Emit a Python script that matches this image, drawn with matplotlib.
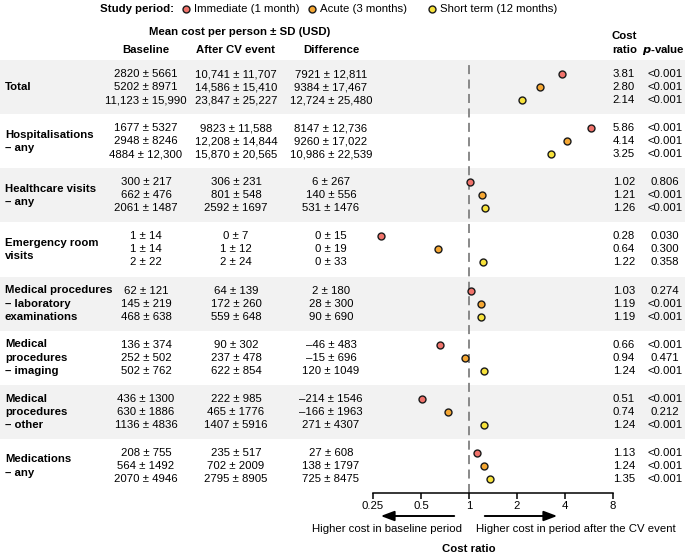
import numpy as np
import matplotlib.pyplot as plt

plt.rcParams['font.family'] = ['Liberation Sans', 'DejaVu Sans']

# Данные
groups = ['Total', 'Hospitalisations\n– any', 'Healthcare visits\n– any',
          'Emergency room\nvisits', 'Medical procedures\n– laboratory\nexaminations',
          'Medical\nprocedures\n– imaging', 'Medical\nprocedures\n– other',
          'Medications\n– any']
periods = ['Immediate (1 month)', 'Acute (3 months)', 'Short term (12 months)']
period_colors = ['#f0736b', '#f5a733', '#f7e23b']

baseline = [['2820 ± 5661', '5202 ± 8971', '11,123 ± 15,990'],
            ['1677 ± 5327', '2948 ± 8246', '4884 ± 12,300'],
            ['300 ± 217', '662 ± 476', '2061 ± 1487'],
            ['1 ± 14', '1 ± 14', '2 ± 22'],
            ['62 ± 121', '145 ± 219', '468 ± 638'],
            ['136 ± 374', '252 ± 502', '502 ± 762'],
            ['436 ± 1300', '630 ± 1886', '1136 ± 4836'],
            ['208 ± 755', '564 ± 1492', '2070 ± 4946']]
after = [['10,741 ± 11,707', '14,586 ± 15,410', '23,847 ± 25,227'],
         ['9823 ± 11,588', '12,208 ± 14,844', '15,870 ± 20,565'],
         ['306 ± 231', '801 ± 548', '2592 ± 1697'],
         ['0 ± 7', '1 ± 12', '2 ± 24'],
         ['64 ± 139', '172 ± 260', '559 ± 648'],
         ['90 ± 302', '237 ± 478', '622 ± 854'],
         ['222 ± 985', '465 ± 1776', '1407 ± 5916'],
         ['235 ± 517', '702 ± 2009', '2795 ± 8905']]
difference = [['7921 ± 12,811', '9384 ± 17,467', '12,724 ± 25,480'],
              ['8147 ± 12,736', '9260 ± 17,022', '10,986 ± 22,539'],
              ['6 ± 267', '140 ± 556', '531 ± 1476'],
              ['0 ± 15', '0 ± 19', '0 ± 33'],
              ['2 ± 180', '28 ± 300', '90 ± 690'],
              ['–46 ± 483', '–15 ± 696', '120 ± 1049'],
              ['–214 ± 1546', '–166 ± 1963', '271 ± 4307'],
              ['27 ± 608', '138 ± 1797', '725 ± 8475']]
ratio = [[3.81, 2.80, 2.14],
         [5.86, 4.14, 3.25],
         [1.02, 1.21, 1.26],
         [0.28, 0.64, 1.22],
         [1.03, 1.19, 1.19],
         [0.66, 0.94, 1.24],
         [0.51, 0.74, 1.24],
         [1.13, 1.24, 1.35]]
pvalue = [['<0.001', '<0.001', '<0.001'],
          ['<0.001', '<0.001', '<0.001'],
          ['0.806', '<0.001', '<0.001'],
          ['0.030', '0.300', '0.358'],
          ['0.274', '<0.001', '<0.001'],
          ['<0.001', '0.471', '<0.001'],
          ['<0.001', '0.212', '<0.001'],
          ['<0.001', '<0.001', '<0.001']]
ticks = [0.25, 0.5, 1, 2, 4, 8]
tick_labels = ['0.25', '0.5', '1', '2', '4', '8']

# Разметка в пикселях
W, H = 685, 557
top, bottom = 60, 493
group_h = (bottom - top) / len(groups)
row_gap = 13
fs = 8.2

fig = plt.figure(figsize=(W / 100, H / 100), dpi=100)
bg = fig.add_axes([0, 0, 1, 1])
bg.set_xlim(0, W)
bg.set_ylim(H, 0)
bg.axis('off')

ax = fig.add_axes([373 / W, (H - bottom) / H, 240 / W, (bottom - top) / H])
ax.set_xscale('log', base=2)
ax.set_xlim(0.25, 8)
ax.set_ylim(bottom, top)
ax.patch.set_alpha(0)

for i, g in enumerate(groups):
    y0 = top + i * group_h
    yc = y0 + group_h / 2
    if i % 2 == 0:
        bg.axhspan(y0, y0 + group_h, color='#f2f2f2', zorder=0, lw=0)
    bg.text(5, yc, g, fontsize=fs, fontweight='bold', va='center', ha='left',
            linespacing=1.4)
    for k in range(3):
        y = yc + (k - 1) * row_gap
        bg.text(146, y, baseline[i][k], fontsize=fs, ha='center', va='center')
        bg.text(236, y, after[i][k], fontsize=fs, ha='center', va='center')
        bg.text(331, y, difference[i][k], fontsize=fs, ha='center', va='center')
        bg.text(624, y, f'{ratio[i][k]:.2f}', fontsize=fs, ha='center', va='center')
        bg.text(665, y, pvalue[i][k], fontsize=fs, ha='center', va='center')
        ax.plot(ratio[i][k], y, 'o', ms=5, mfc=period_colors[k], mec='#1a1a1a',
                mew=1.0, zorder=3, clip_on=False)

ax.axvline(1, color='#808080', lw=1.3, ls=(0, (5, 3)), zorder=1)

for s in ['top', 'right', 'left']:
    ax.spines[s].set_visible(False)
ax.spines['bottom'].set_linewidth(1.1)
ax.set_yticks([])
ax.set_xticks(ticks)
ax.set_xticklabels(tick_labels, fontsize=fs)
ax.xaxis.set_minor_locator(plt.NullLocator())
ax.tick_params(axis='x', length=4, width=1.1, pad=2)

# Стрелки и подписи
bg.annotate('', xy=(378, 516), xytext=(457, 516),
            arrowprops=dict(arrowstyle='-|>,head_length=0.8,head_width=0.3', color='black', lw=1.4))
bg.annotate('', xy=(560, 516), xytext=(482, 516),
            arrowprops=dict(arrowstyle='-|>,head_length=0.8,head_width=0.3', color='black', lw=1.4))
bg.text(462, 529, 'Higher cost in baseline period', fontsize=fs, ha='right', va='center')
bg.text(476, 529, 'Higher cost in period after the CV event', fontsize=fs, ha='left', va='center')
bg.text(469, 549, 'Cost ratio', fontsize=fs, fontweight='bold', ha='center', va='center')

# Заголовки
bg.text(240, 32, 'Mean cost per person ± SD (USD)', fontsize=fs, fontweight='bold',
        ha='center', va='center')
bg.text(146, 50, 'Baseline', fontsize=fs, fontweight='bold', ha='center', va='center')
bg.text(236, 50, 'After CV event', fontsize=fs, fontweight='bold', ha='center', va='center')
bg.text(331, 50, 'Difference', fontsize=fs, fontweight='bold', ha='center', va='center')
bg.text(612, 36, 'Cost', fontsize=fs, fontweight='bold', ha='left', va='center')
bg.text(612, 50, 'ratio', fontsize=fs, fontweight='bold', ha='left', va='center')
bg.text(642, 50, r'$\bfit{p}$' + '-value', fontsize=fs, fontweight='bold', ha='left', va='center')

# Легенда
bg.text(100, 9, 'Study period:', fontsize=fs, fontweight='bold', ha='left', va='center')
leg_x = [186, 312, 432]
for x, lab, c in zip(leg_x, periods, period_colors):
    bg.plot(x, 9, 'o', ms=5, mfc=c, mec='#1a1a1a', mew=1.0)
    bg.text(x + 8, 9, lab, fontsize=fs, ha='left', va='center')

fig.savefig('out.png', dpi=100)
